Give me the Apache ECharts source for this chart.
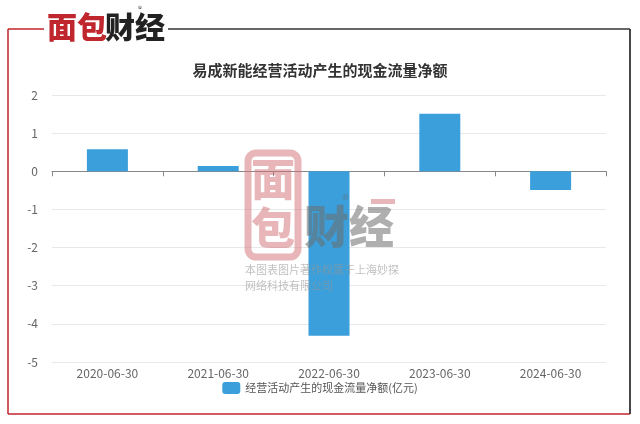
<!DOCTYPE html>
<html><head><meta charset="utf-8">
<script src="https://cdn.jsdelivr.net/npm/echarts@6/dist/echarts.min.js"></script>
<style>html,body{margin:0;padding:0;background:#fff}#c{width:640px;height:424px}</style>
</head><body><div id="c"></div>
<script>
var categories = ['2020-06-30','2021-06-30','2022-06-30','2023-06-30','2024-06-30'];
var values = [0.58, 0.14, -4.31, 1.51, -0.49];
var seriesName = '经营活动产生的现金流量净额(亿元)';
var titleText = '易成新能经营活动产生的现金流量净额';
var yTicks = {min: -5, max: 2, interval: 1};

var font = '"Noto Sans CJK SC", "Noto Sans", sans-serif';
var wmPink = 'rgba(210,110,115,0.5)';
var wmGray = 'rgba(110,110,110,0.55)';
var wmText = 'rgba(150,150,150,0.6)';
var chart = echarts.init(document.getElementById('c'));
chart.setOption({
  backgroundColor: '#fff',
  animation: false,
  title: {text: titleText, left: 'center', top: 58,
    textStyle: {fontFamily: font, fontSize: 15, fontWeight: 'bold', color: '#333'}},
  legend: {bottom: 25, left: 'center', itemWidth: 18, itemHeight: 12, itemGap: 5,
    textStyle: {fontFamily: font, fontSize: 11, color: '#555'},
    data: [seriesName]},
  grid: {left: 52, right: 34, top: 95, bottom: 62, containLabel: false},
  xAxis: [
    {type: 'category', data: categories, position: 'bottom',
      axisLine: {show: false, onZero: false}, axisTick: {show: false},
      axisLabel: {fontFamily: font, fontSize: 12, color: '#666', margin: 5}},
    {type: 'category', data: categories, position: 'bottom',
      axisLine: {show: true, onZero: true, lineStyle: {color: '#888'}},
      axisTick: {show: true, length: 5, lineStyle: {color: '#888'}},
      axisLabel: {show: false}}
  ],
  yAxis: {type: 'value', min: yTicks.min, max: yTicks.max, interval: yTicks.interval,
    axisLine: {show: false}, axisTick: {show: false},
    axisLabel: {fontFamily: font, fontSize: 12, color: '#666', margin: 14},
    splitLine: {lineStyle: {color: '#e8e8e8'}}},
  series: [{name: seriesName, type: 'bar', xAxisIndex: 0, data: values, barWidth: '37%',
    itemStyle: {color: '#3a9fdb'}}],
  graphic: [
    // frame
    {type: 'line', shape: {x1: 8, y1: 29, x2: 8, y2: 414}, style: {stroke: '#c0262d', lineWidth: 1.5}, z: 100},
    {type: 'line', shape: {x1: 8, y1: 414, x2: 630, y2: 414}, style: {stroke: '#c0262d', lineWidth: 1.5}, z: 100},
    {type: 'line', shape: {x1: 8, y1: 29, x2: 44, y2: 29}, style: {stroke: '#c0262d', lineWidth: 1.5}, z: 100},
    {type: 'line', shape: {x1: 168, y1: 29, x2: 630, y2: 29}, style: {stroke: '#333', lineWidth: 1.5}, z: 100},
    {type: 'line', shape: {x1: 630, y1: 29, x2: 630, y2: 414}, style: {stroke: '#333', lineWidth: 1.8}, z: 100},
    // logo
    {type: 'text', left: 47, top: 12, z: 100, style: {text: '面包', fontFamily: font, fontSize: 30, fontWeight: 900, fill: '#c0262d'}},
    {type: 'text', left: 105, top: 12, z: 100, style: {text: '财经', fontFamily: font, fontSize: 30, fontWeight: 900, fill: '#222'}},
    {type: 'text', left: 138, top: 5, z: 100, style: {text: '®', fontFamily: font, fontSize: 8, fill: '#444'}},
    // watermark
    {type: 'rect', z: 60, shape: {x: 248, y: 153, width: 50, height: 104, r: 8}, style: {fill: 'none', stroke: wmPink, lineWidth: 7}},
    {type: 'text', z: 60, style: {x: 251, y: 157, text: '面', fontFamily: font, fontSize: 44, fontWeight: 900, fill: wmPink}},
    {type: 'text', z: 60, style: {x: 251, y: 206, text: '包', fontFamily: font, fontSize: 44, fontWeight: 900, fill: wmPink}},
    {type: 'text', z: 60, style: {x: 304, y: 204, text: '财经', fontFamily: font, fontSize: 45, fontWeight: 900, fill: wmGray}},
    {type: 'text', z: 60, style: {x: 342, y: 193, text: '®', fontFamily: font, fontSize: 14, fill: wmGray}},
    {type: 'rect', z: 60, shape: {x: 371, y: 199, width: 24, height: 5}, style: {fill: wmPink}},
    {type: 'text', z: 60, style: {x: 245, y: 264, text: '本图表图片著作权属于上海妙探', fontFamily: font, fontSize: 11, fill: wmText}},
    {type: 'text', z: 60, style: {x: 245, y: 280, text: '网络科技有限公司', fontFamily: font, fontSize: 11, fill: wmText}}
  ]
});
</script></body></html>
